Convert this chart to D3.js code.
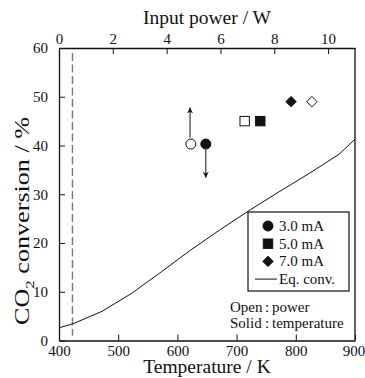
<!DOCTYPE html>
<html><head><meta charset="utf-8">
<script src="https://cdn.jsdelivr.net/npm/d3@7"></script>
<style>html,body{margin:0;padding:0;background:#fff;} svg{display:block;}</style>
</head><body>
<svg id="c" width="365" height="378"></svg>
<script>
// ---- data ----
const tempTicks = [400, 500, 600, 700, 800, 900];
const powerTicks = [0, 2, 4, 6, 8, 10];
const convTicks = [0, 10, 20, 30, 40, 50, 60];
const currents = ["3.0 mA", "5.0 mA", "7.0 mA"];
const shapes = ["circle", "square", "diamond"];
const solidTemp = [648, 740, 792];      // K  (solid symbols, temperature axis)
const solidConv = [40.3, 45.0, 49.0];   // %
const openPower = [4.9, 6.9, 9.4];      // W  (open symbols, power axis)
const openConv = [40.3, 45.0, 49.0];    // %
const eqTemp = [400, 423, 473, 523, 573, 623, 673, 723, 773, 823, 873, 900];
const eqConv = [2.6, 3.4, 6.0, 9.7, 14.1, 18.6, 22.8, 26.8, 30.6, 34.3, 38.2, 41.3];
const dashedPower = [0.5];
const arrowUp = {power: 4.87, from: 41.6, to: 47.8};
const arrowDown = {temp: 648, from: 39.2, to: 33.4};

// ---- layout ----
const FONT = '"Liberation Serif", "Times New Roman", Tinos, serif';
const svg = d3.select("#c");
const L = 59, R = 355, T = 48, B = 340.5;
const x = d3.scaleLinear().domain([400, 900]).range([L, R]);
const xp = d3.scaleLinear().domain([0, 11]).range([L, R]);
const y = d3.scaleLinear().domain([0, 60]).range([B, T]);

function txt(sel, size) {
  return sel.style("font-family", FONT).style("font-size", size).attr("fill", "#111");
}

svg.append("defs").append("marker").attr("id", "ah")
  .attr("viewBox", "0 0 10 10").attr("refX", 10).attr("refY", 5)
  .attr("markerWidth", 6).attr("markerHeight", 7).attr("markerUnits", "userSpaceOnUse")
  .attr("orient", "auto")
  .append("path").attr("d", "M0,0 L10,5 L0,10 L3,5 Z").attr("fill", "#111");

// axes
const gBottom = svg.append("g").attr("transform", `translate(0,${B})`)
  .call(d3.axisBottom(x).tickValues(tempTicks).tickSizeInner(-6).tickSizeOuter(0).tickPadding(5));
const gTop = svg.append("g").attr("transform", `translate(0,${T})`)
  .call(d3.axisTop(xp).tickValues(powerTicks).tickSizeInner(-6).tickSizeOuter(0).tickPadding(4));
const gLeft = svg.append("g").attr("transform", `translate(${L},0)`)
  .call(d3.axisLeft(y).tickValues(convTicks).tickSizeInner(-6).tickSizeOuter(0).tickPadding(11));
[gBottom, gTop, gLeft].forEach(g => {
  g.attr("font-family", null).attr("font-size", null);
  txt(g.selectAll("text"), "15px");
  g.selectAll("line").attr("stroke", "#111").attr("stroke-width", 1);
  g.select(".domain").attr("stroke", "#111").attr("stroke-width", 1.3);
});
gBottom.selectAll("text").filter(d => d === 900).attr("dx", -1.5);
// right frame
svg.append("line").attr("x1", R).attr("x2", R).attr("y1", T).attr("y2", B)
  .attr("stroke", "#111").attr("stroke-width", 1.3);

// dashed line
svg.selectAll(".dash").data(dashedPower).join("line")
  .attr("x1", d => xp(d)).attr("x2", d => xp(d))
  .attr("y1", y(59.0)).attr("y2", y(1.0))
  .attr("stroke", "#777").attr("stroke-width", 1.4).attr("stroke-dasharray", "8,3.5");

// equilibrium curve
svg.append("path").datum(eqTemp.map((t, i) => [t, eqConv[i]]))
  .attr("d", d3.line().x(d => x(d[0])).y(d => y(d[1])))
  .attr("fill", "none").attr("stroke", "#111").attr("stroke-width", 1);

// symbol generator
function sym(shape, cx, cy, filled) {
  const fill = filled ? "#111" : "#fff";
  if (shape === "circle")
    return svg.append("circle").attr("cx", cx).attr("cy", cy).attr("r", 5)
      .attr("fill", fill).attr("stroke", "#111").attr("stroke-width", 1);
  if (shape === "square")
    return svg.append("rect").attr("x", cx - 4.7).attr("y", cy - 4.7).attr("width", 9.4).attr("height", 9.4)
      .attr("fill", fill).attr("stroke", "#111").attr("stroke-width", 1);
  const s = 5.2;
  return svg.append("path").attr("d", `M${cx},${cy - s}L${cx + s},${cy}L${cx},${cy + s}L${cx - s},${cy}Z`)
    .attr("fill", fill).attr("stroke", "#111").attr("stroke-width", 1);
}
shapes.forEach((s, i) => {
  sym(s, xp(openPower[i]), y(openConv[i]), false);
  sym(s, x(solidTemp[i]), y(solidConv[i]), true);
});

// arrows
svg.append("line").attr("x1", xp(arrowUp.power)).attr("x2", xp(arrowUp.power))
  .attr("y1", y(arrowUp.from)).attr("y2", y(arrowUp.to))
  .attr("stroke", "#111").attr("stroke-width", 1).attr("marker-end", "url(#ah)");
svg.append("line").attr("x1", x(arrowDown.temp)).attr("x2", x(arrowDown.temp))
  .attr("y1", y(arrowDown.from)).attr("y2", y(arrowDown.to))
  .attr("stroke", "#111").attr("stroke-width", 1).attr("marker-end", "url(#ah)");

// legend
const lx = 248, ly = 212, lw = 101, lh = 79, rowH = 17.7;
svg.append("rect").attr("x", lx).attr("y", ly).attr("width", lw).attr("height", lh)
  .attr("fill", "#fff").attr("stroke", "#111").attr("stroke-width", 1.2);
const legItems = currents.concat(["Eq. conv."]);
legItems.forEach((lab, i) => {
  const cy = ly + 14 + i * rowH;
  if (i < 3) sym(shapes[i], lx + 20, cy, true);
  else {
    svg.append("line").attr("x1", lx + 7).attr("x2", lx + 29).attr("y1", cy).attr("y2", cy)
      .attr("stroke", "#111").attr("stroke-width", 1);
  }
  txt(svg.append("text").attr("x", lx + 31).attr("y", cy + 5), "15px").text(lab);
});

// open/solid note
const notes = [["Open", "power"], ["Solid", "temperature"]];
notes.forEach((n, i) => {
  const by = 312 + i * 16;
  txt(svg.append("text").attr("x", 230).attr("y", by), "15px").text(n[0]);
  txt(svg.append("text").attr("x", 265).attr("y", by), "15px").text(":");
  txt(svg.append("text").attr("x", 272).attr("y", by), "15px").text(n[1]);
});

// axis titles
txt(svg.append("text").attr("x", (L + R) / 2).attr("y", 373).attr("text-anchor", "middle"), "19.5px")
  .text("Temperature / K");
txt(svg.append("text").attr("x", (L + R) / 2).attr("y", 24).attr("text-anchor", "middle"), "19.5px")
  .text("Input power / W");
const yt = txt(svg.append("text").attr("transform", "translate(29,221) rotate(-90)")
  .attr("text-anchor", "middle"), "20px")
  .attr("textLength", 208).attr("lengthAdjust", "spacingAndGlyphs");
yt.append("tspan").text("CO");
yt.append("tspan").attr("dy", 5).style("font-size", "13px").text("2");
yt.append("tspan").attr("dy", -5).text(" conversion / %");
</script>
</body></html>
